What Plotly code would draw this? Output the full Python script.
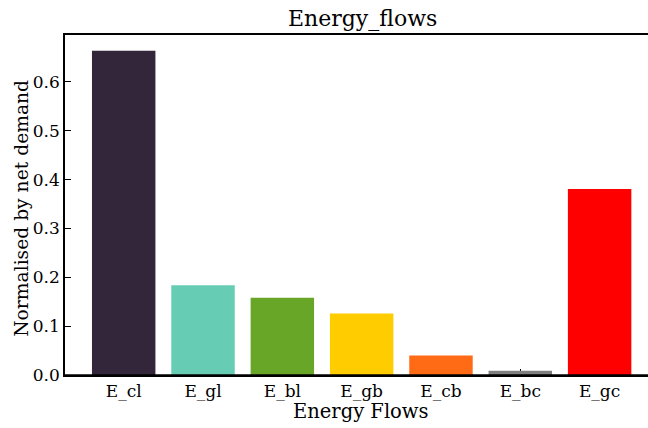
import plotly.graph_objects as go

categories = ["E_cl", "E_gl", "E_bl", "E_gb", "E_cb", "E_bc", "E_gc"]
values = [0.6636, 0.1836, 0.158, 0.1258, 0.040, 0.0086, 0.381]
colors = ["#33263a", "#66cdb4", "#67a626", "#ffcc00", "#ff6b14", "#7f7f7f", "#ff0000"]
y_ticks = [0.0, 0.1, 0.2, 0.3, 0.4, 0.5, 0.6]

FONT = "DejaVu Serif, serif"

fig = go.Figure(go.Bar(x=categories, y=values, marker=dict(color=colors, line=dict(width=0)),
                       width=0.8, hoverinfo="skip"))

fig.update_layout(
    width=648, height=428,
    margin=dict(l=65, r=0, t=35, b=52.5, autoexpand=False),
    plot_bgcolor="white", paper_bgcolor="white",
    font=dict(family=FONT, color="black"),
    showlegend=False,
)
fig.update_xaxes(
    range=[-0.74, 6.61], showline=True, linecolor="black", linewidth=1.5, mirror=True,
    ticks="inside", ticklen=6, tickcolor="black", tickwidth=1, showgrid=False,
    tickfont=dict(family=FONT, size=17), layer="below traces", automargin=False,
    ticklabelstandoff=0,
)
fig.update_yaxes(
    range=[0, 0.696], showline=True, linecolor="black", linewidth=1.5, mirror=False,
    ticks="inside", ticklen=6, tickcolor="black", tickwidth=1, showgrid=False, zeroline=False,
    tickvals=y_ticks, ticktext=[f"{v:.1f}" for v in y_ticks],
    tickfont=dict(family=FONT, size=17), layer="below traces", automargin=False,
)
fig.add_shape(type="line", xref="paper", yref="paper", x0=0, x1=1, y0=0, y1=0,
              line=dict(color="black", width=1.5), layer="above")

# titles as annotations in pixel-matched positions
fig.add_annotation(text="Energy_flows", xref="paper", yref="paper",
                   x=(362 - 65) / 583, y=1 + (35 - 18) / 340.5,
                   xanchor="center", yanchor="middle", showarrow=False,
                   font=dict(family=FONT, size=22, color="black"))
fig.add_annotation(text="Energy Flows", xref="paper", yref="paper",
                   x=(361 - 65) / 583, y=-(412.5 - 375.5) / 340.5,
                   xanchor="center", yanchor="middle", showarrow=False,
                   font=dict(family=FONT, size=19.5, color="black"))
fig.add_annotation(text="Normalised by net demand", xref="paper", yref="paper",
                   x=-(65 - 22) / 583, y=(375.5 - 209) / 340.5, textangle=-90,
                   xanchor="center", yanchor="middle", showarrow=False,
                   font=dict(family=FONT, size=18.7, color="black"))

fig.write_html("out.html", config={"displayModeBar": False},
               post_script="document.body.style.margin='0';")
